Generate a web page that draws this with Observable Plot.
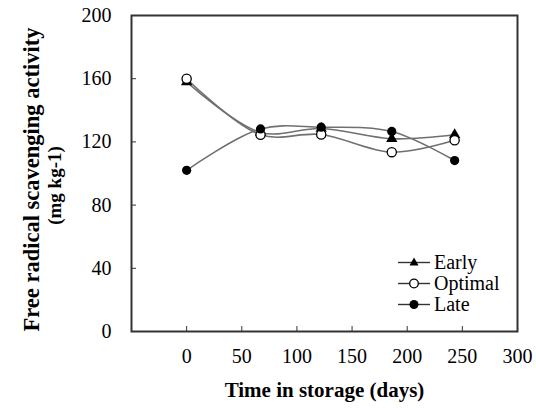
<!DOCTYPE html>
<html><head><meta charset="utf-8">
<script src="https://cdn.jsdelivr.net/npm/d3@7"></script>
<script src="https://cdn.jsdelivr.net/npm/@observablehq/plot@0.6"></script>
<style>
body{margin:0;background:#fff;}
#chart{position:relative;width:536px;height:408px;}
#chart svg text, #legend{font-family:"Liberation Serif","Times New Roman",Tinos,"DejaVu Serif",serif !important;}
#legend{position:absolute;left:397px;top:252px;font-size:20px;line-height:21px;color:#000;}
.row{display:flex;align-items:center;height:21px;}
.row svg{margin-right:3px;}
</style></head><body><div id="chart"></div>
<script>
const days = [0, 67, 122, 186, 243];
const early = [158, 126, 128.5, 122, 124.5];
const optimal = [160, 124.5, 124.7, 113.5, 121];
const late = [102, 128.2, 129.3, 126.6, 108.2];
const seriesNames = ["Early", "Optimal", "Late"];
const xTicks = [0, 50, 100, 150, 200, 250, 300];
const yTicks = [0, 40, 80, 120, 160, 200];
const xTitle = "Time in storage (days)";
const yTitle = ["Free radical scavenging activity", "(mg kg-1)"];

const FONT = "'Liberation Serif', 'Times New Roman', serif";
const rows = (vals) => days.map((d, i) => ({day: d, value: vals[i]}));
const dEarly = rows(early), dOpt = rows(optimal), dLate = rows(late);
const lineStyle = {x: "day", y: "value", stroke: "#707070", strokeWidth: 1.6, curve: "catmull-rom"};

const chart = Plot.plot({
  width: 536, height: 408,
  marginLeft: 131, marginRight: 19, marginTop: 15, marginBottom: 77,
  style: {fontFamily: FONT, background: "#fff", color: "#000"},
  x: {domain: [-50, 300], axis: null},
  y: {domain: [0, 200], axis: null},
  marks: [
    Plot.axisX(xTicks, {anchor: "bottom", tickSize: 0, tickPadding: 17, fontSize: 20, fontFamily: FONT, label: null}),
    Plot.axisX(xTicks.filter(d => d > -50 && d < 300), {anchor: "bottom", tickSize: 5, dy: -5, tickFormat: () => "", label: null, stroke: "#333"}),
    Plot.axisY(yTicks, {anchor: "left", tickSize: 0, tickPadding: 20, fontSize: 20, fontFamily: FONT, label: null}),
    Plot.axisY(yTicks.filter(d => d > 0 && d < 200), {anchor: "left", tickSize: 5, dx: 5, tickFormat: () => "", label: null, stroke: "#333"}),
    Plot.frame({stroke: "#333", strokeWidth: 2}),
    Plot.line(dEarly, lineStyle),
    Plot.line(dOpt, lineStyle),
    Plot.line(dLate, lineStyle),
    Plot.dot(dEarly, {x: "day", y: "value", symbol: "triangle", fill: "#000", r: 4.2}),
    Plot.dot(dOpt, {x: "day", y: "value", symbol: "circle", fill: "#fff", stroke: "#000", strokeWidth: 1.3, r: 4.6}),
    Plot.dot(dLate, {x: "day", y: "value", symbol: "circle", fill: "#000", r: 4.6}),
    Plot.text([xTitle], {frameAnchor: "bottom", dy: 59, lineAnchor: "middle", fontSize: 21, fontWeight: "bold", fontFamily: FONT}),
    Plot.text([yTitle[0]], {frameAnchor: "left", textAnchor: "middle", dx: -100, dy: 6, rotate: -90, lineAnchor: "middle", fontSize: 22.5, fontWeight: "bold", fontFamily: FONT}),
    Plot.text([yTitle[1]], {frameAnchor: "left", textAnchor: "middle", dx: -77, dy: 12, rotate: -90, lineAnchor: "middle", fontSize: 19, fontWeight: "bold", fontFamily: FONT})
  ]
});
const root = document.getElementById("chart");
root.appendChild(chart);

const legend = document.createElement("div");
legend.id = "legend";
const sym = {
  Early: '<path d="M17,5.5 L21.5,13.5 L12.5,13.5 Z" fill="#000"/>',
  Optimal: '<circle cx="17" cy="10.5" r="4.3" fill="#fff" stroke="#000" stroke-width="1.3"/>',
  Late: '<circle cx="17" cy="10.5" r="4.5" fill="#000"/>'
};
seriesNames.forEach(name => {
  const row = document.createElement("div");
  row.className = "row";
  row.innerHTML = `<svg width="34" height="21"><line x1="1" x2="33" y1="10.5" y2="10.5" stroke="#333" stroke-width="1.4"/>${sym[name]}</svg><span>${name}</span>`;
  legend.appendChild(row);
});
root.appendChild(legend);
</script>
</body></html>
